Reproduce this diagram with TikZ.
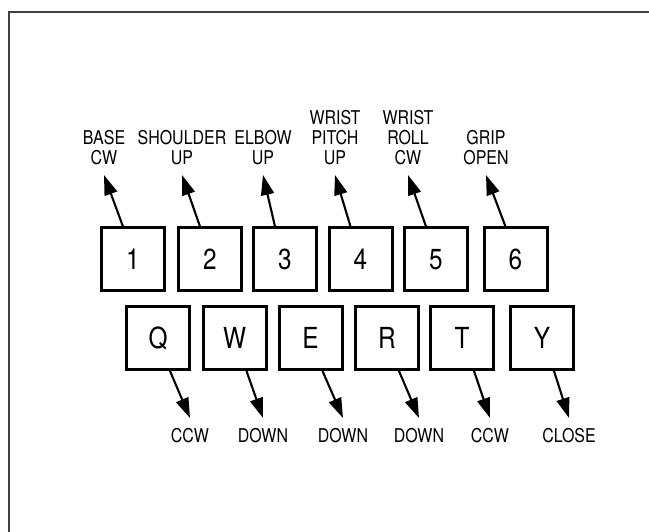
\documentclass[tikz,border=0pt]{standalone}
\usepackage{fontspec}
\setmainfont[FakeStretch=0.84]{TeX Gyre Heros}
\usetikzlibrary{arrows.meta}
\begin{document}
\begin{tikzpicture}[x=1pt,y=-1pt,
  keybox/.style={draw, line width=3pt, minimum size=63pt, inner sep=0pt,
    font=\fontsize{29}{29}\selectfont},
  lbl/.style={inner sep=0pt, align=center, font=\fontsize{19}{20}\selectfont},
  arr/.style={line width=2.1pt, -{Triangle[length=20pt,width=13pt]}},
  edge line/.style={line width=1.5pt, black!75}
]
\useasboundingbox (0,0) rectangle (649,532);
% open frame: top and left edges, both running off the page
\draw[edge line] (8.25,12) -- (700,12);
\draw[edge line] (9,11.25) -- (9,600);

% upper row of keys
\node[keybox] (k1) at (133,259.5) {1};
\node[keybox] (k2) at (210,259.5) {2};
\node[keybox] (k3) at (285,259.5) {3};
\node[keybox] (k4) at (360.5,259.5) {4};
\node[keybox] (k5) at (436,259.5) {5};
\node[keybox] (k6) at (515.5,259.5) {6};

% lower row of keys
\node[keybox] (kq) at (158,338) {Q};
\node[keybox] (kw) at (234.5,338) {W};
\node[keybox] (ke) at (310.5,338) {E};
\node[keybox] (kr) at (387,338) {R};
\node[keybox] (kt) at (462,338) {T};
\node[keybox] (ky) at (542,338) {Y};

% labels above
\node[lbl, anchor=south] (l1) at (104,165) {BASE\\CW};
\node[lbl, anchor=south] (l2) at (182,165) {SHOULDER\\UP};
\node[lbl, anchor=south] (l3) at (263,165) {ELBOW\\UP};
\node[lbl, anchor=south] (l4) at (335,165) {WRIST\\PITCH\\UP};
\node[lbl, anchor=south] (l5) at (408,165) {WRIST\\ROLL\\CW};
\node[lbl, anchor=south] (l6) at (486,165) {GRIP\\OPEN};

% labels below
\node[lbl, anchor=north] (b1) at (190,428) {CCW};
\node[lbl, anchor=north] (b2) at (263,428) {DOWN};
\node[lbl, anchor=north] (b3) at (343,428) {DOWN};
\node[lbl, anchor=north] (b4) at (419,428) {DOWN};
\node[lbl, anchor=north] (b5) at (490,428) {CCW};
\node[lbl, anchor=north] (b6) at (569,428) {CLOSE};

% arrows up from the number keys
\draw[arr] ([xshift=-10pt]k1.north) -- ([yshift=-10pt]l1.south);
\draw[arr] ([xshift=-10pt]k2.north) -- ([yshift=-10pt]l2.south);
\draw[arr] ([xshift=-10pt]k3.north) -- ([yshift=-10pt]l3.south);
\draw[arr] ([xshift=-10pt]k4.north) -- ([yshift=-10pt]l4.south);
\draw[arr] ([xshift=-10pt]k5.north) -- ([yshift=-10pt]l5.south);
\draw[arr] ([xshift=-10pt]k6.north) -- ([yshift=-10pt]l6.south);

% arrows down from the letter keys
\draw[arr] ([xshift=12pt]kq.south) -- ([yshift=10pt]b1.north);
\draw[arr] ([xshift=12pt]kw.south) -- ([yshift=10pt]b2.north);
\draw[arr] ([xshift=12pt]ke.south) -- ([yshift=10pt]b3.north);
\draw[arr] ([xshift=12pt]kr.south) -- ([yshift=10pt]b4.north);
\draw[arr] ([xshift=12pt]kt.south) -- ([yshift=10pt]b5.north);
\draw[arr] ([xshift=12pt]ky.south) -- ([yshift=10pt]b6.north);
\end{tikzpicture}
\end{document}
